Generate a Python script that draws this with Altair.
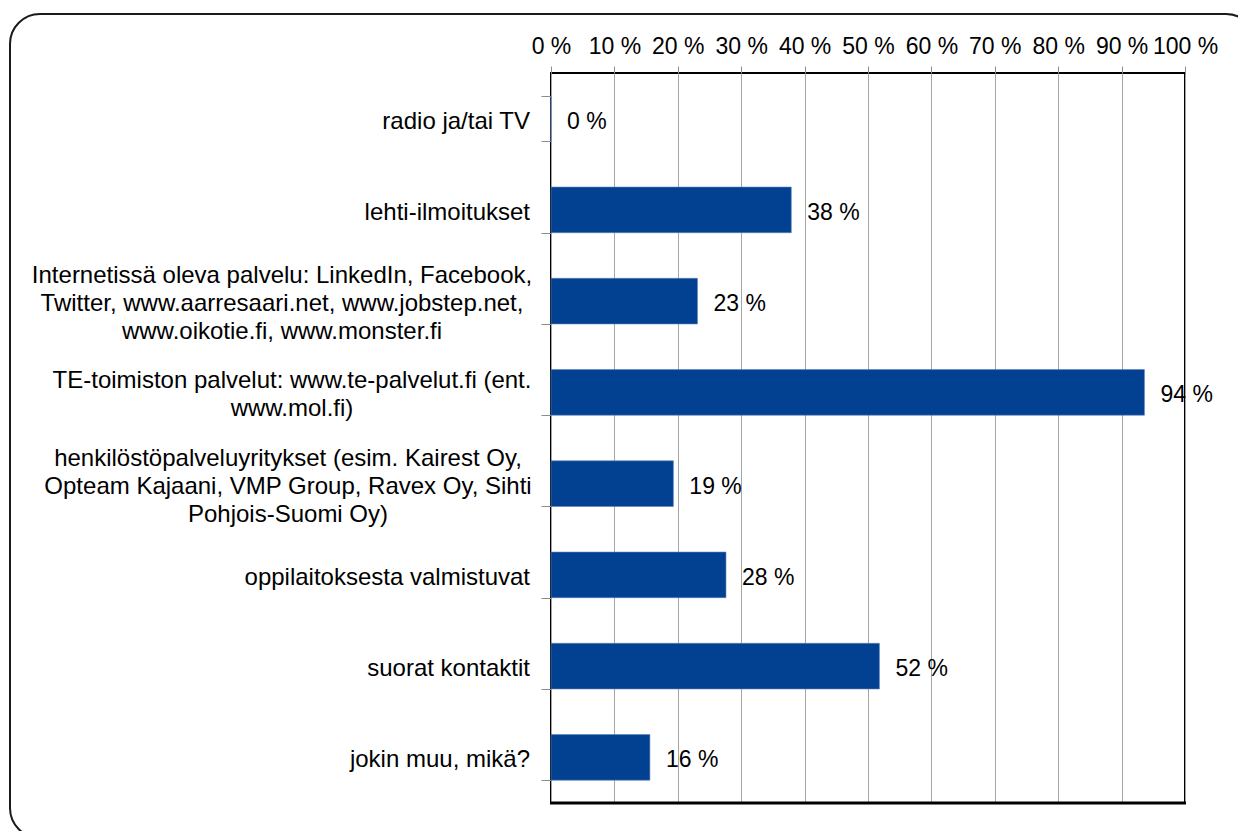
import altair as alt
import pandas as pd

categories = [
    "radio ja/tai TV",
    "lehti-ilmoitukset",
    "Internetissä oleva palvelu: LinkedIn, Facebook,|Twitter, www.aarresaari.net, www.jobstep.net,|www.oikotie.fi, www.monster.fi",
    "TE-toimiston palvelut: www.te-palvelut.fi (ent.|www.mol.fi)",
    "henkilöstöpalveluyritykset (esim. Kairest Oy,|Opteam Kajaani, VMP Group, Ravex Oy, Sihti|Pohjois-Suomi Oy)",
    "oppilaitoksesta valmistuvat",
    "suorat kontaktit",
    "jokin muu, mikä?",
]
values = [0.0, 37.9, 23.1, 93.6, 19.3, 27.6, 51.8, 15.6]
tick_values = [0, 10, 20, 30, 40, 50, 60, 70, 80, 90, 100]

df = pd.DataFrame({"cat": categories, "val": values})

FONT = "Liberation Sans"
BAR = "#024191"
LINE_H = 28
# half width of the widest line of each multi-line label (24px Liberation Sans),
# used to centre the lines of a label block whose right edge stays at the axis
half_widths = [(categories[2], 248), (categories[3], 238), (categories[4], 242)]


def js_str(s):
    return "'" + s.replace("\\", "\\\\").replace("'", "\\'") + "'"


dx_expr = ""
for k, w in half_widths:
    dx_expr += "datum.cat == " + js_str(k) + " ? " + str(-w) + " : "
dx_expr += "0"

base = alt.Chart(df).transform_calculate(
    lab="format(datum.val, '.0f') + ' %'"
)

y_enc = alt.Y(
    "cat:N",
    sort=categories,
    scale=alt.Scale(paddingInner=0.5, paddingOuter=0.25),
    axis=alt.Axis(
        title=None,
        labels=False,
        tickBand="extent",
        tickSize=10,
        tickColor="#8c8c8c",
        domain=False,
        grid=False,
    ),
)

bars = base.mark_bar(color=BAR, stroke="#5d7fb8", strokeWidth=0.6).encode(
    x=alt.X(
        "val:Q",
        scale=alt.Scale(domain=[0, 100], nice=False),
        axis=alt.Axis(
            orient="top",
            title=None,
            values=tick_values,
            labelExpr="datum.value + ' %'",
            labelFont=FONT,
            labelFontSize=23,
            labelColor="black",
            labelPadding=8,
            labelOverlap=False,
            labelFlush=False,
            labelBound=False,
            tickSize=7,
            tickColor="#8c8c8c",
            grid=True,
            gridColor="#a6a6a6",
            gridWidth=1,
            domain=False,
        ),
    ),
    y=y_enc,
)

cat_labels = base.mark_text(
    font=FONT,
    fontSize=24,
    color="black",
    baseline="middle",
    lineBreak="|",
    lineHeight=LINE_H,
    align=alt.expr("indexof(datum.cat, '|') >= 0 ? 'center' : 'right'"),
    dx=alt.expr(dx_expr),
    dy=alt.expr("(1 - length(split(datum.cat, '|'))) * " + str(LINE_H / 2) + " + 3"),
).encode(
    x=alt.value(-21),
    y=alt.Y("cat:N", sort=categories),
    text="cat:N",
)

texts = base.mark_text(
    align="left", baseline="middle", dx=16, dy=3, font=FONT, fontSize=23, color="black"
).encode(
    x=alt.X("val:Q"),
    y=alt.Y("cat:N", sort=categories),
    text="lab:N",
)

one = alt.Data(values=[{"k": 1}])

bottom_line = alt.Chart(one).mark_rule(color="black", strokeWidth=3).encode(
    x=alt.value(-1),
    x2=alt.value(635),
    y=alt.value(730),
)

frame = alt.Chart(one).mark_rect(
    filled=False, stroke="#1a1a1a", strokeWidth=2, cornerRadius=30
).encode(
    x=alt.value(-541),
    x2=alt.value(705),
    y=alt.value(-59),
    y2=alt.value(765),
)

chart = (
    alt.layer(bars, texts, cat_labels, bottom_line, frame)
    .properties(
        width=634,
        height=730,
        autosize=alt.AutoSizeParams(type="none"),
        padding={"left": 551, "top": 73, "right": 53, "bottom": 28},
        background="white",
    )
    .configure_view(stroke="black", strokeWidth=2)
)

chart.save("out.html", embed_options={"renderer": "svg", "actions": False})
